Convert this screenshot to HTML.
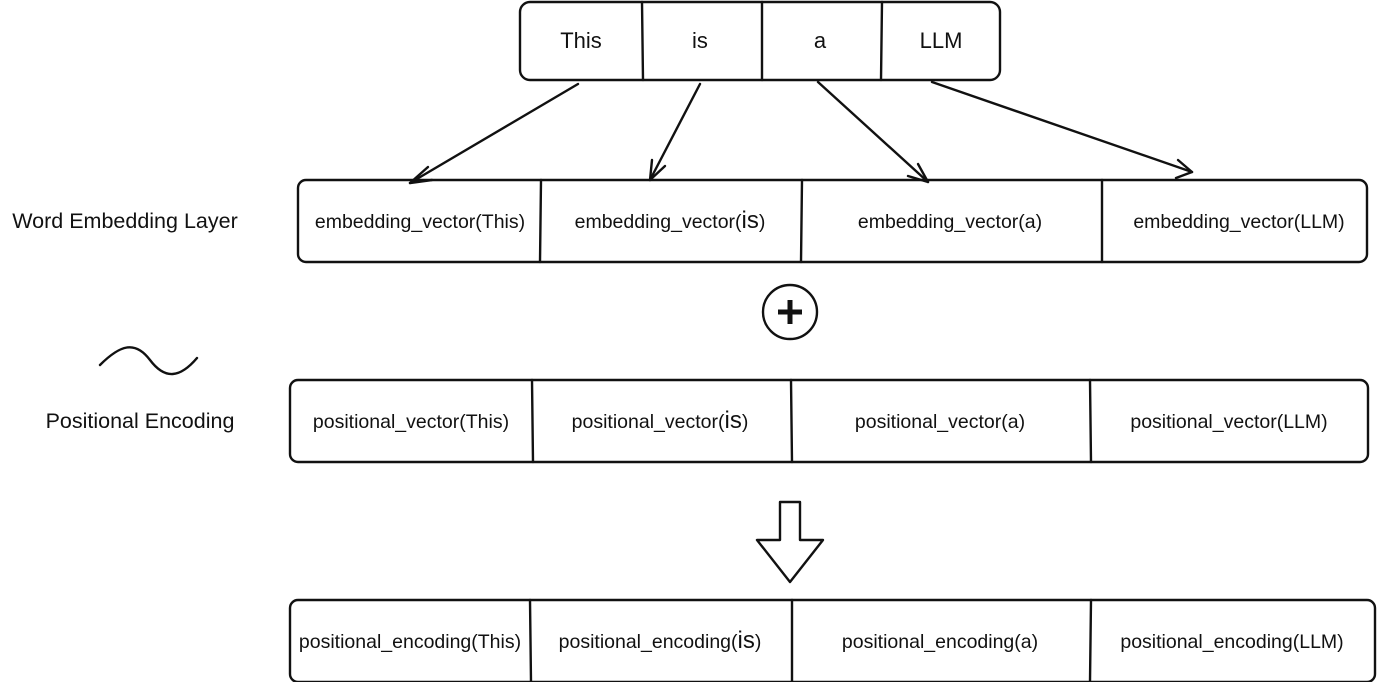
<!DOCTYPE html>
<html><head><style>body{margin:0;background:#fff}svg{display:block}text{font-family:"Liberation Sans",Arial,sans-serif;fill:#111}</style></head><body>
<svg width="1382" height="682" viewBox="0 0 1382 682" xmlns="http://www.w3.org/2000/svg">
<g fill="none" stroke="#111" stroke-width="2.4" stroke-linecap="round" stroke-linejoin="round">
<rect x="520" y="2" width="480" height="78" rx="10"/>
<line x1="642" y1="2" x2="643" y2="80"/><line x1="762" y1="2" x2="762" y2="80"/><line x1="882" y1="2" x2="881" y2="80"/>
<rect x="298" y="180" width="1069" height="82" rx="8"/>
<line x1="541" y1="180" x2="540" y2="262"/><line x1="802" y1="180" x2="801" y2="262"/><line x1="1102" y1="180" x2="1102" y2="262"/>
<rect x="290" y="380" width="1078" height="82" rx="8"/>
<line x1="532" y1="380" x2="533" y2="462"/><line x1="791" y1="380" x2="792" y2="462"/><line x1="1090" y1="380" x2="1091" y2="462"/>
<rect x="290" y="600" width="1085" height="82" rx="8"/>
<line x1="530" y1="600" x2="531" y2="682"/><line x1="792" y1="600" x2="792" y2="682"/><line x1="1091" y1="600" x2="1090" y2="682"/>
<line x1="578" y1="84" x2="410" y2="183"/><path d="M410 183 L428 167 M410 183 L432 180"/>
<line x1="700" y1="84" x2="650" y2="180"/><path d="M650 180 L652 160 M650 180 L665 166"/>
<line x1="818" y1="82" x2="928" y2="182"/><path d="M928 182 L918 164 M928 182 L908 176"/>
<line x1="932" y1="82" x2="1192" y2="172"/><path d="M1192 172 L1178 160 M1192 172 L1176 178"/>
<circle cx="790" cy="312" r="27"/>
<path d="M100 365 C120 345,135 340,150 360 C165 380,180 378,197 358"/>
<path d="M780 502 L800 502 L800 540 L823 540 L790 582 L757 540 L780 540 Z"/>
</g>
<path d="M778 312 H802 M790 300 V324" stroke="#111" stroke-width="5"/>
<g font-size="22" text-anchor="middle">
<text x="581" y="48">This</text><text x="700" y="48">is</text><text x="820" y="48">a</text><text x="941" y="48">LLM</text>
</g>
<g font-size="19.5" text-anchor="middle">
<text x="420" y="228">embedding_vector(This)</text><text x="670" y="228">embedding_vector(<tspan font-size="24">is</tspan>)</text><text x="950" y="228">embedding_vector(a)</text><text x="1239" y="228">embedding_vector(LLM)</text>
<text x="411" y="428">positional_vector(This)</text><text x="660" y="428">positional_vector(<tspan font-size="24">is</tspan>)</text><text x="940" y="428">positional_vector(a)</text><text x="1229" y="428">positional_vector(LLM)</text>
<text x="410" y="648">positional_encoding(This)</text><text x="660" y="648">positional_encoding(<tspan font-size="24">is</tspan>)</text><text x="940" y="648">positional_encoding(a)</text><text x="1232" y="648">positional_encoding(LLM)</text>
</g>
<g font-size="21.5" text-anchor="middle">
<text x="125" y="228">Word Embedding Layer</text>
<text x="140" y="428">Positional Encoding</text>
</g>
</svg>
</body></html>
